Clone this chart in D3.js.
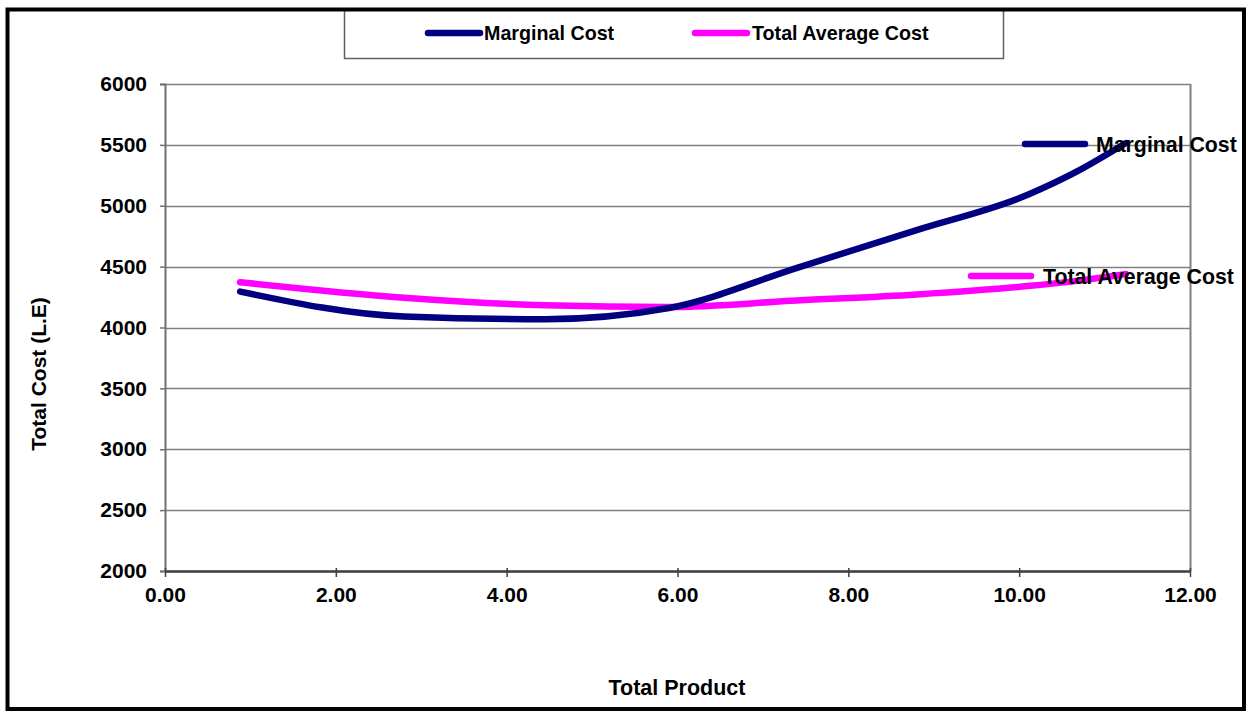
<!DOCTYPE html>
<html>
<head>
<meta charset="utf-8">
<script src="https://cdn.jsdelivr.net/npm/d3@7"></script>
<style>
  html, body { margin: 0; padding: 0; background: #fff; }
  svg { display: block; }
  text { font-family: "Liberation Sans", Arial, sans-serif; font-weight: bold; fill: #000; }
</style>
</head>
<body>
<svg id="chart" width="1247" height="711"></svg>
<script>
// Output levels (Total Product) at which costs were computed
const totalProduct = [0.88, 2.80, 4.45, 5.90, 7.40, 8.80, 10.10, 10.70, 11.25];
// Marginal cost (L.E)
const marginalCost = [4295, 4090, 4068, 4160, 4490, 4800, 5090, 5290, 5515];
// Total average cost (L.E)
const totalAverageCost = [4372, 4245, 4182, 4168, 4222, 4272, 4340, 4385, 4440];

const seriesNames = ["Marginal Cost", "Total Average Cost"];
const seriesColors = ["#000080", "#FF00FF"];
const xTicks = [0, 2, 4, 6, 8, 10, 12];
const yTicks = [2000, 2500, 3000, 3500, 4000, 4500, 5000, 5500, 6000];
const xTitle = "Total Product";
const yTitle = "Total Cost (L.E)";

const svg = d3.select("#chart");

// Plot area
const plot = { left: 165, right: 1190, top: 84, bottom: 571 };

const x = d3.scaleLinear().domain([0, 12]).range([plot.left, plot.right]);
const y = d3.scaleLinear().domain([2000, 6000]).range([plot.bottom, plot.top]);

// Outer frame background
svg.append("rect")
  .attr("x", 7.5).attr("y", 9.5)
  .attr("width", 1236.5).attr("height", 699.5)
  .attr("fill", "#fff");

// Horizontal gridlines
svg.append("g")
  .selectAll("line")
  .data(yTicks)
  .join("line")
  .attr("x1", plot.left).attr("x2", plot.right)
  .attr("y1", d => Math.round(y(d)) + 0.5).attr("y2", d => Math.round(y(d)) + 0.5)
  .attr("stroke", "#808080").attr("stroke-width", 1.5);

// Right edge of plot area
svg.append("line")
  .attr("x1", plot.right + 0.5).attr("x2", plot.right + 0.5)
  .attr("y1", plot.top).attr("y2", plot.bottom)
  .attr("stroke", "#808080").attr("stroke-width", 2);

// Y axis
const yAxis = svg.append("g")
  .attr("transform", `translate(${plot.left},0)`)
  .call(d3.axisLeft(y).tickValues(yTicks).tickSize(5).tickPadding(13).tickFormat(d3.format("d")));
yAxis.select(".domain").attr("stroke", "#707070").attr("stroke-width", 2);
yAxis.selectAll(".tick line").attr("stroke", "#707070").attr("stroke-width", 1.5);
yAxis.selectAll(".tick text")
  .attr("font-family", "Liberation Sans, Arial, sans-serif")
  .attr("font-weight", "bold").attr("font-size", 21).attr("fill", "#000");

// X axis
const xAxis = svg.append("g")
  .attr("transform", `translate(0,${plot.bottom})`)
  .call(d3.axisBottom(x).tickValues(xTicks).tickSizeInner(6).tickSizeOuter(0).tickPadding(10).tickFormat(d3.format(".2f")));
xAxis.select(".domain").attr("stroke", "#404040").attr("stroke-width", 2.5);
xAxis.selectAll(".tick line").attr("stroke", "#404040").attr("stroke-width", 1.5).attr("y1", -3);
xAxis.selectAll(".tick text")
  .attr("font-family", "Liberation Sans, Arial, sans-serif")
  .attr("font-weight", "bold").attr("font-size", 21).attr("fill", "#000");

// Axis titles
svg.append("text")
  .attr("x", 677).attr("y", 695)
  .attr("text-anchor", "middle").attr("font-size", 21.5)
  .text(xTitle);

svg.append("text")
  .attr("transform", "translate(46,374) rotate(-90)")
  .attr("text-anchor", "middle").attr("font-size", 21)
  .text(yTitle);

// Cost curves
const series = [marginalCost, totalAverageCost].map((vals, i) => ({
  name: seriesNames[i],
  color: seriesColors[i],
  points: totalProduct.map((q, j) => [q, vals[j]])
}));

const line = d3.line()
  .x(d => x(d[0]))
  .y(d => y(d[1]))
  .curve(d3.curveMonotoneX);

svg.append("g")
  .selectAll("path")
  .data(series.slice().reverse())
  .join("path")
  .attr("d", d => line(d.points))
  .attr("fill", "none")
  .attr("stroke", d => d.color)
  .attr("stroke-width", 6.5)
  .attr("stroke-linecap", "round")
  .attr("stroke-linejoin", "round");

// Series labels beside the curve ends
const endLabels = [
  { sx: 1025, ex: 1085, tx: 1096, ty: 144 },
  { sx: 971, ex: 1031, tx: 1043, ty: 276 }
];
const endG = svg.append("g");
series.forEach((s, i) => {
  const p = endLabels[i];
  endG.append("line")
    .attr("x1", p.sx).attr("x2", p.ex)
    .attr("y1", p.ty).attr("y2", p.ty)
    .attr("stroke", s.color).attr("stroke-width", 6.5).attr("stroke-linecap", "round");
  endG.append("text")
    .attr("x", p.tx).attr("y", p.ty + 7.5)
    .attr("font-size", 21.3)
    .text(s.name);
});

// Legend
const legend = svg.append("g");
legend.append("rect")
  .attr("x", 344.5).attr("y", 9.5).attr("width", 659).attr("height", 49)
  .attr("fill", "#fff").attr("stroke", "#606060").attr("stroke-width", 1.5);
const legendItems = [
  { sx: 428, ex: 480, tx: 484 },
  { sx: 695, ex: 747, tx: 752 }
];
series.forEach((s, i) => {
  const p = legendItems[i];
  legend.append("line")
    .attr("x1", p.sx).attr("x2", p.ex).attr("y1", 33).attr("y2", 33)
    .attr("stroke", s.color).attr("stroke-width", 6.5).attr("stroke-linecap", "round");
  legend.append("text")
    .attr("x", p.tx).attr("y", 40)
    .attr("font-size", 19.7)
    .text(s.name);
});

// Frame stroke drawn over the legend edge
svg.append("rect")
  .attr("x", 7.5).attr("y", 9.5)
  .attr("width", 1236.5).attr("height", 699.5)
  .attr("fill", "none").attr("stroke", "#000").attr("stroke-width", 4);
</script>
</body>
</html>
